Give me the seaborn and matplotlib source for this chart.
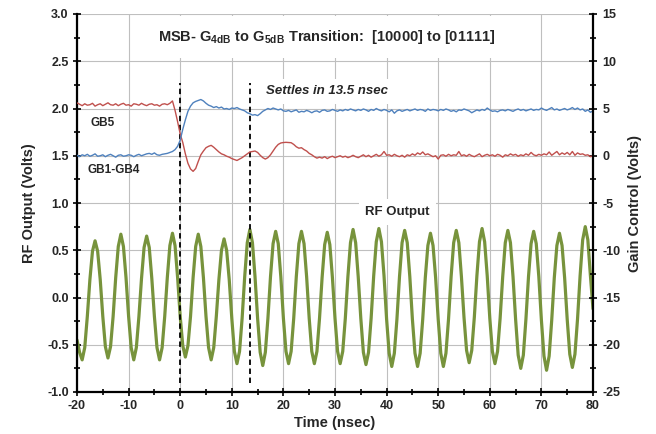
import numpy as np
import pandas as pd
import matplotlib
matplotlib.use("Agg")
import matplotlib.pyplot as plt
import seaborn as sns
from matplotlib.ticker import MultipleLocator

# sample clock of the scope capture
time_start_ns = -20.0
time_step_ns = 0.5

# RF output (primary axis, volts), one row = 5 ns
rf_output_v = [
    -0.45, -0.58, -0.66, -0.53, -0.20, 0.19, 0.49, 0.60, 0.49, 0.19,
    -0.20, -0.52, -0.64, -0.52, -0.20, 0.21, 0.54, 0.67, 0.54, 0.21,
    -0.20, -0.53, -0.66, -0.53, -0.20, 0.20, 0.53, 0.65, 0.53, 0.20,
    -0.20, -0.53, -0.66, -0.53, -0.20, 0.21, 0.55, 0.68, 0.55, 0.21,
    -0.20, -0.51, -0.63, -0.51, -0.20, 0.21, 0.54, 0.67, 0.54, 0.21,
    -0.20, -0.53, -0.66, -0.53, -0.20, 0.19, 0.50, 0.62, 0.50, 0.19,
    -0.22, -0.57, -0.70, -0.57, -0.22, 0.22, 0.58, 0.72, 0.58, 0.22,
    -0.22, -0.58, -0.72, -0.58, -0.22, 0.22, 0.57, 0.70, 0.57, 0.22,
    -0.22, -0.57, -0.70, -0.57, -0.22, 0.22, 0.57, 0.70, 0.57, 0.22,
    -0.22, -0.57, -0.70, -0.57, -0.22, 0.21, 0.56, 0.69, 0.56, 0.21,
    -0.22, -0.57, -0.70, -0.57, -0.22, 0.22, 0.58, 0.72, 0.58, 0.22,
    -0.22, -0.58, -0.71, -0.58, -0.22, 0.23, 0.59, 0.73, 0.59, 0.23,
    -0.23, -0.59, -0.73, -0.59, -0.23, 0.22, 0.58, 0.71, 0.58, 0.22,
    -0.23, -0.59, -0.73, -0.59, -0.23, 0.21, 0.55, 0.68, 0.55, 0.21,
    -0.23, -0.59, -0.73, -0.59, -0.23, 0.22, 0.58, 0.71, 0.58, 0.22,
    -0.21, -0.56, -0.69, -0.56, -0.21, 0.23, 0.59, 0.73, 0.59, 0.23,
    -0.22, -0.57, -0.70, -0.57, -0.22, 0.22, 0.58, 0.71, 0.58, 0.22,
    -0.23, -0.61, -0.75, -0.61, -0.23, 0.22, 0.57, 0.70, 0.57, 0.22,
    -0.24, -0.62, -0.77, -0.62, -0.24, 0.21, 0.55, 0.68, 0.55, 0.21,
    -0.23, -0.60, -0.74, -0.60, -0.23, 0.23, 0.61, 0.75, 0.61, 0.23,
    -0.12,
]

# GB5 gain control (secondary axis, volts)
gb5_v = [
    5.60, 5.45, 5.30, 5.50, 5.35, 5.40, 5.55, 5.25, 5.40, 5.50,
    5.30, 5.45, 5.60, 5.40, 5.35, 5.50, 5.30, 5.45, 5.55, 5.35,
    5.40, 5.25, 5.50, 5.45, 5.35, 5.55, 5.40, 5.30, 5.45, 5.50,
    5.35, 5.40, 5.25, 5.45, 5.50, 5.40, 5.55, 5.80, 4.80, 3.60,
    2.30, 1.40, 0.20, -0.80, -1.40, -1.65, -1.35, -0.60, 0.10, 0.50,
    0.85, 1.00, 1.10, 0.90, 0.65, 0.40, 0.20, 0.10, -0.05, -0.15,
    -0.30, -0.40, -0.50, -0.35, -0.20, 0.00, 0.20, 0.40, 0.45, 0.50,
    0.35, 0.05, -0.20, -0.35, -0.20, 0.10, 0.50, 0.90, 1.20, 1.35,
    1.40, 1.42, 1.40, 1.38, 1.20, 0.95, 0.80, 0.85, 0.65, 0.50,
    0.25, 0.10, -0.10, -0.25, -0.15, -0.25, -0.10, -0.30, -0.15, -0.05,
    -0.20, -0.10, 0.00, -0.15, -0.05, -0.20, -0.10, 0.05, -0.10, -0.20,
    -0.05, 0.10, -0.10, 0.05, -0.15, 0.00, 0.15, -0.05, 0.10, 0.45,
    0.05, 0.10, -0.05, 0.15, 0.00, -0.10, 0.05, -0.15, 0.10, 0.00,
    0.20, 0.05, 0.30, 0.15, 0.40, 0.10, 0.20, 0.05, -0.10, 0.00,
    -0.35, 0.05, 0.10, -0.05, 0.15, 0.00, 0.10, 0.05, 0.45, 0.00,
    0.10, -0.05, 0.15, 0.00, -0.10, 0.05, 0.20, -0.10, 0.05, 0.15,
    0.00, 0.10, -0.05, 0.15, 0.05, -0.15, 0.10, 0.00, 0.20, 0.05,
    0.15, -0.05, 0.10, 0.00, 0.20, 0.05, 0.35, 0.10, 0.00, 0.15,
    0.05, 0.20, 0.10, 0.40, 0.05, 0.25, 0.45, 0.10, 0.30, 0.15,
    0.35, 0.10, 0.45, 0.05, 0.30, 0.15, 0.20, 0.05, 0.10, -0.10,
    0.00,
]

# GB1-GB4 gain control (secondary axis, volts)
gb1_gb4_v = [
    0.05, -0.10, 0.10, 0.00, 0.15, -0.05, 0.05, 0.20, -0.05, 0.00,
    0.10, -0.10, 0.05, 0.15, 0.00, -0.15, 0.05, 0.10, -0.05, 0.00,
    0.10, 0.05, -0.10, 0.05, 0.15, 0.00, 0.10, 0.20, 0.25, 0.15,
    0.30, 0.10, 0.05, 0.15, 0.20, 0.25, 0.35, 0.45, 0.65, 1.00,
    1.65, 2.80, 3.80, 4.70, 5.25, 5.60, 5.75, 5.85, 5.95, 5.80,
    5.55, 5.35, 5.25, 5.10, 5.20, 5.05, 5.15, 4.95, 5.00, 4.90,
    5.05, 5.00, 5.10, 4.95, 4.85, 4.75, 4.55, 4.45, 4.30, 4.35,
    4.25, 4.45, 4.70, 4.85, 5.00, 4.90, 5.05, 4.95, 4.85, 4.95,
    4.75, 4.70, 4.80, 4.65, 4.75, 4.85, 4.60, 4.70, 4.65, 4.80,
    4.70, 4.55, 4.70, 4.75, 4.60, 4.80, 4.85, 4.70, 4.75, 4.90,
    4.80, 4.70, 4.85, 4.75, 4.90, 4.80, 4.95, 4.85, 4.75, 4.90,
    4.80, 4.95, 4.85, 4.70, 4.90, 4.80, 5.00, 4.85, 4.75, 4.90,
    4.80, 4.65, 4.85, 4.50, 4.75, 4.85, 4.70, 4.80, 4.90, 4.75,
    4.85, 4.95, 4.80, 4.90, 4.85, 4.70, 4.95, 4.80, 4.90, 4.85,
    4.75, 4.90, 4.80, 4.95, 4.85, 4.70, 4.80, 4.65, 4.85, 4.80,
    4.95, 4.85, 4.75, 4.55, 4.70, 4.85, 4.75, 4.90, 4.80, 5.05,
    4.85, 4.70, 4.75, 4.65, 4.80, 4.85, 4.75, 4.90, 4.80, 4.70,
    4.85, 4.95, 4.80, 4.90, 4.75, 4.85, 4.95, 4.80, 4.90, 4.85,
    5.05, 4.90, 4.80, 4.95, 5.10, 4.85, 4.95, 4.80, 4.90, 5.00,
    4.85, 4.95, 5.10, 4.90, 5.05, 4.85, 4.95, 4.70, 4.85, 4.60,
    4.75,
]

# switching instant and settled instant (ns)
step_marks_ns = [0.0, 13.5]

sns.set_theme(style="white")
plt.rcParams["font.family"] = ["Liberation Sans", "DejaVu Sans"]
plt.rcParams["font.weight"] = "bold"
plt.rcParams["axes.unicode_minus"] = False
plt.rcParams["mathtext.fontset"] = "custom"
plt.rcParams["mathtext.rm"] = "Liberation Sans:bold"
plt.rcParams["mathtext.bf"] = "Liberation Sans:bold"

time_ns = time_start_ns + time_step_ns * np.arange(len(rf_output_v))
df = pd.DataFrame({
    "Time": time_ns,
    "RF": rf_output_v,
    "GB5": gb5_v,
    "GB1-GB4": gb1_gb4_v,
})

fig = plt.figure(figsize=(6.56, 4.34), dpi=100)
ax = fig.add_axes([77 / 656, 42 / 434, 516 / 656, 378 / 434])
ax2 = ax.twinx()

sns.lineplot(data=df, x="Time", y="RF", color="#77933C", linewidth=2.3,
             estimator=None, sort=False, ax=ax)
sns.lineplot(data=df, x="Time", y="GB5", color="#C0504D", linewidth=1.0,
             estimator=None, sort=False, ax=ax2)
sns.lineplot(data=df, x="Time", y="GB1-GB4", color="#4F81BD", linewidth=1.0,
             estimator=None, sort=False, ax=ax2)

ax.vlines(step_marks_ns, -0.91, 2.27, colors="black", linewidth=1.3,
          linestyles=(0, (3, 2)), zorder=5)

ax.set_xlim(-20, 80)
ax.set_ylim(-1.0, 3.0)
ax2.set_ylim(-25, 15)

ax.xaxis.set_major_locator(MultipleLocator(10))
ax.xaxis.set_minor_locator(MultipleLocator(5))
ax.yaxis.set_major_locator(MultipleLocator(0.5))
ax.yaxis.set_minor_locator(MultipleLocator(0.25))
ax2.yaxis.set_major_locator(MultipleLocator(5))
ax2.yaxis.set_minor_locator(MultipleLocator(2.5))
ax.yaxis.set_major_formatter(lambda v, p: f"{v:.1f}")

ax.grid(True, which="major", color="#BFBFBF", linewidth=0.8)
ax2.grid(False)

for a in (ax, ax2):
    for s in a.spines.values():
        s.set_visible(False)
for side in ("left", "bottom"):
    ax.spines[side].set_visible(True)
    ax.spines[side].set_color("black")
    ax.spines[side].set_linewidth(1.6)
ax2.spines["right"].set_visible(True)
ax2.spines["right"].set_color("black")
ax2.spines["right"].set_linewidth(1.6)

tick_kw = dict(direction="inout", color="black", width=1.2)
ax.tick_params(axis="both", which="major", length=6, labelsize=9, pad=3,
               left=True, bottom=True, **tick_kw)
ax.tick_params(axis="both", which="minor", length=5, left=True, bottom=True,
               **tick_kw)
ax2.tick_params(axis="y", which="major", length=6, labelsize=9, pad=4,
                right=True, **tick_kw)
ax2.tick_params(axis="y", which="minor", length=5, right=True, **tick_kw)

ax.set_xlabel("Time (nsec)", fontsize=10.5, fontweight="bold", labelpad=3)
ax.set_ylabel("RF Output (Volts)", fontsize=10.5, fontweight="bold", labelpad=8)
ax2.set_ylabel("Gain Control (Volts)", fontsize=10.5, fontweight="bold", labelpad=5)

box = dict(facecolor="white", edgecolor="none", boxstyle="square,pad=0.5")
ax2.text(0.4835, 0.939,
         r"MSB- G$_{\mathbf{4dB}}$ to G$_{\mathbf{5dB}}$ Transition:  [10000] to [01111]",
         transform=ax2.transAxes, ha="center", va="center", fontsize=10.5,
         fontweight="bold", bbox=dict(facecolor="white", edgecolor="none",
                                      boxstyle="square,pad=0.8"), zorder=10)
ax2.text(0.366, 0.796, "Settles in 13.5 nsec", transform=ax2.transAxes,
         ha="left", va="center", fontsize=9.5, fontweight="bold",
         fontstyle="italic", bbox=box, zorder=10)
ax2.text(0.621, 0.476, "RF Output", transform=ax2.transAxes, ha="center",
         va="center", fontsize=9.5, fontweight="bold", bbox=box, zorder=10)
ax2.text(0.027, 0.712, "GB5", transform=ax2.transAxes, ha="left",
         va="center", fontsize=8.5, fontweight="bold", zorder=10)
ax2.text(0.021, 0.587, "GB1-GB4", transform=ax2.transAxes, ha="left",
         va="center", fontsize=8.5, fontweight="bold", zorder=10)

fig.savefig("out.png", dpi=100)
